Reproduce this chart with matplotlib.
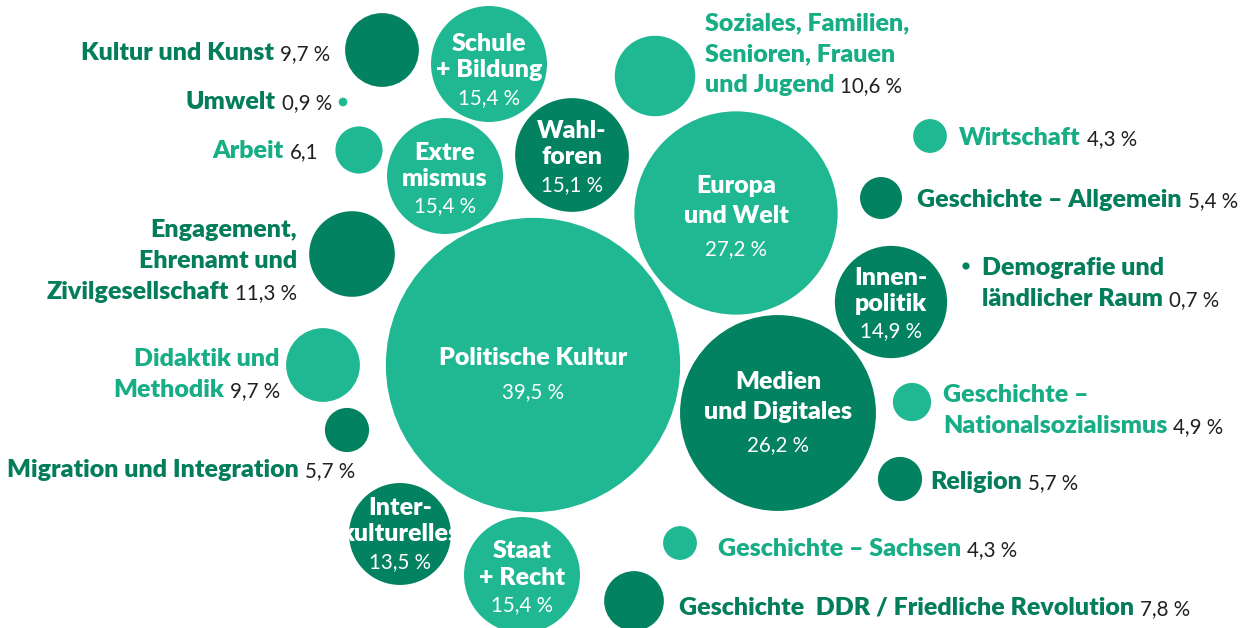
"""
Bubble chart: Themen der politischen Bildung (Anteile in %)
"""
import matplotlib
matplotlib.use("Agg")
import matplotlib.pyplot as plt
import matplotlib.patches as patches

# data
topics = [
    "Politische Kultur", "Europa\nund Welt", "Medien\nund Digitales",
    "Schule\n+ Bildung", "Extre\nmismus", "Staat\n+ Recht", "Wahl-\nforen",
    "Innen-\npolitik", "Inter-\nkulturelles",
    "Engagement,\nEhrenamt und\nZivilgesellschaft",
    "Soziales, Familien,\nSenioren, Frauen\nund Jugend",
    "Kultur und Kunst", "Didaktik und\nMethodik",
    "Geschichte  DDR / Friedliche Revolution", "Arbeit",
    "Migration und Integration", "Religion", "Geschichte – Allgemein",
    "Geschichte –\nNationalsozialismus", "Wirtschaft", "Geschichte – Sachsen",
    "Umwelt", "Demografie und\nländlicher Raum",
]
shares = [39.5, 27.2, 26.2, 15.4, 15.4, 15.4, 15.1, 14.9, 13.5, 11.3, 10.6,
          9.7, 9.7, 7.8, 6.1, 5.7, 5.7, 5.4, 4.9, 4.3, 4.3, 0.9, 0.7]
no_unit = {"Arbeit"}   # printed without "%" in the original

# styling / layout (pixel coordinates, y downwards)
LIGHT = "#1fb893"
DARK = "#028261"
LIGHT_TXT = "#17ad85"
DARK_TXT = "#047d5a"
GREY = "#231f20"
BOLD = dict(family="Lato", weight="heavy", fontsize=18)
REG = dict(family="Lato", fontsize=14.8)
LINE = 31   # line spacing of outside labels
GAP = 6

# topic: (cx, cy, circle colour, label)
#   label ("in", first_dy, step, pct_gap) -> white text inside the circle
#   label ("L"/"R", x, baseline_y, text colour) -> text left/right of circle
layout = {
    "Politische Kultur": (533, 365, LIGHT, ("in", -9, 30, 34)),
    "Europa\nund Welt": (736, 213, LIGHT, ("in", -29, 30, 33)),
    "Medien\nund Digitales": (778, 413, DARK, ("in", -33, 30, 33)),
    "Schule\n+ Bildung": (489, 64, LIGHT, ("in", -22, 26, 28)),
    "Extre\nmismus": (445, 176, LIGHT, ("in", -25, 26, 27)),
    "Staat\n+ Recht": (522, 575, LIGHT, ("in", -26, 27, 27)),
    "Wahl-\nforen": (572, 155, DARK, ("in", -26, 26, 28)),
    "Innen-\npolitik": (891, 302, DARK, ("in", -26, 26, 27)),
    "Inter-\nkulturelles": (400, 534, DARK, ("in", -28, 26, 28)),
    "Engagement,\nEhrenamt und\nZivilgesellschaft": (352, 254, DARK, ("L", 297, 237, DARK_TXT)),
    "Soziales, Familien,\nSenioren, Frauen\nund Jugend": (655, 76, LIGHT, ("R", 705, 30, LIGHT_TXT)),
    "Kultur und Kunst": (382, 50, DARK, ("L", 330, 60, DARK_TXT)),
    "Didaktik und\nMethodik": (323, 365, LIGHT, ("L", 280, 366, LIGHT_TXT)),
    "Geschichte  DDR / Friedliche Revolution": (634, 601, DARK, ("R", 679, 615, DARK_TXT)),
    "Arbeit": (359, 150, LIGHT, ("L", 318, 158, LIGHT_TXT)),
    "Migration und Integration": (347, 430, DARK, ("L", 355, 477, DARK_TXT)),
    "Religion": (900, 479, DARK, ("R", 930, 489, DARK_TXT)),
    "Geschichte – Allgemein": (881, 198, DARK, ("R", 917, 207, DARK_TXT)),
    "Geschichte –\nNationalsozialismus": (912, 402, LIGHT, ("R", 943, 402, LIGHT_TXT)),
    "Wirtschaft": (930, 136, LIGHT, ("R", 959, 145, LIGHT_TXT)),
    "Geschichte – Sachsen": (680, 543, LIGHT, ("R", 718, 556, LIGHT_TXT)),
    "Umwelt": (343, 102, LIGHT, ("L", 332, 109, DARK_TXT)),
    "Demografie und\nländlicher Raum": (966, 266, DARK, ("R", 982, 275, DARK_TXT)),
}


def radius(v):
    # radius grows linearly with the share, as in the original graphic
    return 3.7 * v + 1


def value_text(name, v):
    s = f"{v:.1f}".replace(".", ",")
    return s if name in no_unit else s + " %"


fig = plt.figure(figsize=(12.44, 6.28), dpi=100)
ax = fig.add_axes([0, 0, 1, 1])
ax.set_xlim(0, 1244)
ax.set_ylim(628, 0)
ax.axis("off")
renderer = fig.canvas.get_renderer()
inv = ax.transData.inverted()


def x_of(px):
    return inv.transform((px, 0))[0]


for name, v in zip(topics, shares):
    cx, cy, col, lab = layout[name]
    ax.add_patch(patches.Circle((cx, cy), radius(v), facecolor=col,
                                edgecolor="none"))
    lines = name.split("\n")
    vt = value_text(name, v)

    if lab[0] == "in":
        _, dy0, step, gap = lab
        for i, line in enumerate(lines):
            ax.text(cx, cy + dy0 + i * step, line, color="white", ha="center",
                    va="center_baseline", **BOLD)
        ax.text(cx, cy + dy0 + (len(lines) - 1) * step + gap, vt,
                color="white", ha="center", va="center_baseline", **REG)

    elif lab[0] == "R":
        _, x, y, tc = lab
        for i, line in enumerate(lines):
            t = ax.text(x, y + i * LINE, line, color=tc, ha="left",
                        va="baseline", **BOLD)
        x_end = x_of(t.get_window_extent(renderer).x1)
        ax.text(x_end + GAP, y + (len(lines) - 1) * LINE, vt, color=GREY,
                ha="left", va="baseline", **REG)

    else:
        _, x, y, tc = lab
        y_last = y + (len(lines) - 1) * LINE
        p = ax.text(x, y_last, vt, color=GREY, ha="right", va="baseline", **REG)
        x_start = x_of(p.get_window_extent(renderer).x0)
        ax.text(x_start - GAP, y_last, lines[-1], color=tc, ha="right",
                va="baseline", **BOLD)
        for i, line in enumerate(lines[:-1]):
            ax.text(x, y + i * LINE, line, color=tc, ha="right",
                    va="baseline", **BOLD)

fig.savefig("out.png", dpi=100)
